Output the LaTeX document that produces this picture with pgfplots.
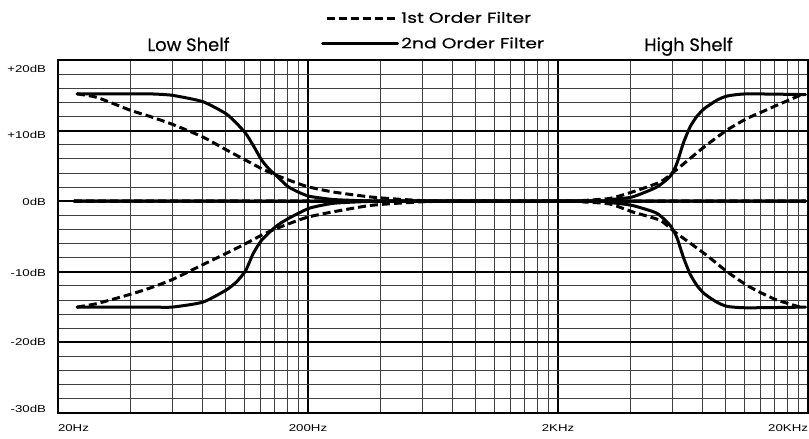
\documentclass[border=0pt]{standalone}
\usepackage{fontspec}
\setmainfont{Poppins}
\newfontfamily\tickfont[FakeStretch=1.33]{Liberation Sans}
\newfontfamily\legfont[FakeStretch=1.3, FakeBold=0.3]{Poppins}
\newfontfamily\titfont[FakeBold=0.3]{Poppins}
\usepackage{pgfplots}
\pgfplotsset{compat=1.18}
\begin{document}
\begin{tikzpicture}
\begin{axis}[
  scale only axis, width=750bp, height=353bp, clip=false,
  xmin=0, xmax=3, ymin=-30, ymax=20,
  xtick={0,1,2,3},
  xticklabels={\makebox[0pt][l]{20Hz},200Hz,2KHz,\makebox[0pt][r]{20KHz}},
  ytick={-30,-20,-10,0,10,20},
  yticklabels={\raisebox{4bp}[7bp][0pt]{-30dB},\raisebox{0bp}[7bp][0pt]{-20dB},\raisebox{-1bp}[7bp][0pt]{-10dB},\raisebox{-1bp}[7bp][0pt]{0dB},\raisebox{-4bp}[7bp][0pt]{+10dB},\raisebox{-9bp}[7bp][0pt]{+20dB}},
  minor xtick={0.28906,0.45816,0.57813,0.67119,0.74722,0.81151,0.86719,0.91631,0.96025,
               1.28906,1.45816,1.57813,1.67119,1.74722,1.81151,1.86719,1.91631,1.96025,
               2.28906,2.45816,2.57813,2.67119,2.74722,2.81151,2.86719,2.91631,2.96025},
  minor ytick={-28,-26,-24,-22,-18,-16,-14,-12,-8,-6,-4,-2,2,4,6,8,12,14,16,18},
  grid=both,
  major grid style={black, line width=2bp},
  minor grid style={black!75, line width=0.9bp},
  axis line style={line width=2.2bp},
  major tick length=0pt, minor tick length=0pt,
  tick label style={font=\tickfont\fontsize{10}{12}\selectfont},
  xticklabel style={yshift=-8bp},
  yticklabel style={xshift=-8.5bp},
  legend style={draw=none, fill=none, at={(axis description cs:0.3507,1)}, anchor=south west, yshift=8bp,
    font=\legfont\fontsize{14.5}{16}\selectfont, row sep=9bp, inner sep=0pt},
  legend cell align=left,
  solidc/.style={black, line width=3bp, line cap=round, line join=round, smooth, tension=0.35},
  dashc/.style={black, line width=3bp, dash pattern=on 8bp off 4bp, line join=round, smooth, tension=0.35},
]
% low shelf boost
\addplot[dashc, legend image code/.code={\draw[black, line width=3bp, dash pattern=on 8bp off 4bp] (4bp,0bp) -- (74bp,0bp);}]
 coordinates {(0.076,15.2)(0.156,14.7)(0.288,12.9)(0.368,12.0)(0.457,10.9)(0.579,9.1)(0.672,7.3)(0.751,5.8)(0.815,4.6)(0.871,3.7)(0.961,2.5)(1.005,2.0)(1.101,1.3)(1.25,0.6)(1.4,0.2)(1.6,0)(2.99,0)};
\addlegendentry{1st Order Filter}
\addplot[solidc, legend image code/.code={\draw[black, line width=3bp] (0bp,0bp) -- (75bp,0bp);}]
 coordinates {(0.076,15.2)(0.25,15.2)(0.368,15.2)(0.457,15.0)(0.579,14.1)(0.672,12.4)(0.715,11.0)(0.751,9.6)(0.781,7.9)(0.815,5.8)(0.848,4.4)(0.871,3.7)(0.919,2.1)(0.961,1.3)(1.005,0.7)(1.101,0.24)(1.235,0.05)(1.4,0)(2.99,0)};
\addlegendentry{2nd Order Filter}
% low shelf cut
\addplot[dashc, forget plot]
 coordinates {(0.076,-15.0)(0.156,-14.5)(0.288,-13.2)(0.368,-12.3)(0.457,-11.1)(0.579,-9.0)(0.672,-7.4)(0.751,-6.0)(0.815,-4.8)(0.871,-3.9)(0.961,-2.7)(1.005,-2.2)(1.101,-1.5)(1.25,-0.6)(1.4,-0.2)(1.6,0)(2.99,0)};
\addplot[solidc, forget plot]
 coordinates {(0.076,-15.0)(0.368,-15.0)(0.457,-15.0)(0.579,-14.3)(0.672,-12.6)(0.715,-11.4)(0.751,-9.8)(0.781,-7.4)(0.815,-5.5)(0.871,-3.6)(0.919,-2.5)(1.005,-1.0)(1.101,-0.3)(1.235,-0.05)(1.4,0)(2.99,0)};
% high shelf boost
\addplot[dashc, forget plot]
 coordinates {(0.064,0)(2.0,0)(2.1,0.1)(2.208,0.4)(2.297,1.3)(2.408,2.7)(2.465,4.2)(2.585,7.7)(2.677,10.1)(2.755,11.7)(2.819,12.7)(2.876,13.6)(2.968,15.0)};
\addplot[solidc, forget plot]
 coordinates {(0.064,0)(2.1,0)(2.208,0.24)(2.297,0.6)(2.395,2.0)(2.448,3.5)(2.475,5.3)(2.501,8.2)(2.528,10.5)(2.555,12.0)(2.585,13.1)(2.635,14.3)(2.677,14.9)(2.755,15.2)(2.99,15.1)};
% high shelf cut
\addplot[dashc, forget plot]
 coordinates {(0.064,0)(2.0,0)(2.1,-0.1)(2.208,-0.4)(2.297,-1.5)(2.408,-2.7)(2.465,-4.3)(2.585,-7.4)(2.677,-10.0)(2.755,-11.9)(2.819,-13.1)(2.876,-14.0)(2.968,-15.0)};
\addplot[solidc, forget plot]
 coordinates {(0.064,0)(2.1,0)(2.208,-0.2)(2.297,-0.6)(2.395,-1.7)(2.448,-3.4)(2.475,-5.1)(2.501,-7.9)(2.528,-10.3)(2.555,-11.9)(2.585,-13.1)(2.635,-14.3)(2.677,-14.9)(2.755,-15.1)(2.99,-15.0)};
\node[anchor=base, font=\titfont\fontsize{18}{20}\selectfont, yshift=9bp] at (axis description cs:0.174,1) {Low Shelf};
\node[anchor=base, font=\titfont\fontsize{18}{20}\selectfont, yshift=9bp] at (axis description cs:0.8407,1) {High Shelf};
\end{axis}
\pgfresetboundingbox
\path[use as bounding box] (-58bp,-26bp) rectangle (751bp,413bp);
\end{tikzpicture}
\end{document}
